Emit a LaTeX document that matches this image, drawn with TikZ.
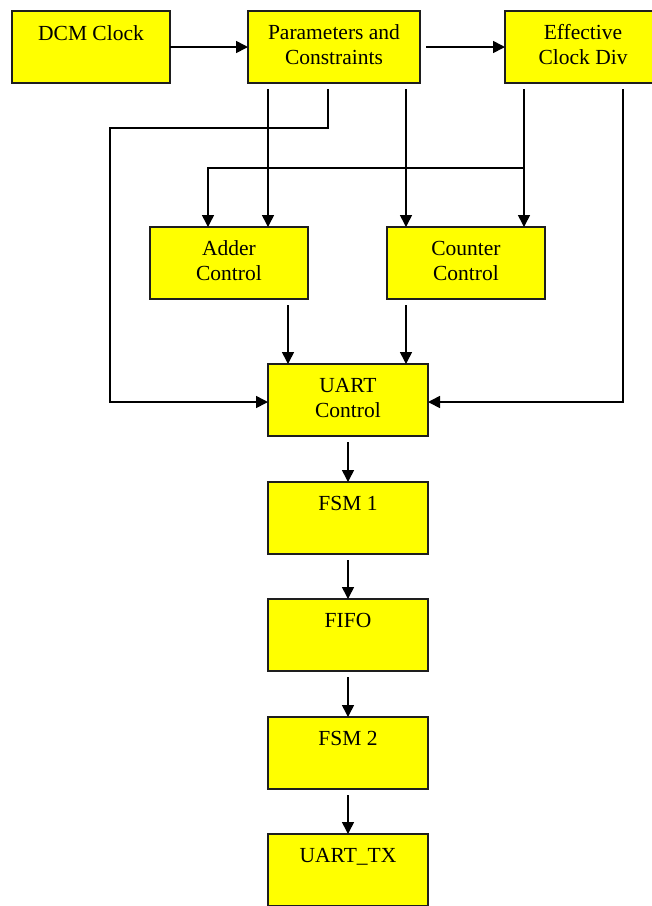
\documentclass[tikz,border=0pt]{standalone}
\usepackage{fontspec}
\setmainfont{Liberation Serif}
\usetikzlibrary{arrows.meta,calc}
\definecolor{boxyellow}{RGB}{255,255,0}
\definecolor{edgegray}{RGB}{30,30,30}
\tikzset{
  blk/.style={draw=edgegray, fill=boxyellow, line width=1.4pt, rectangle, inner sep=0pt, outer sep=0pt, anchor=north west},
  lbl/.style={anchor=base, inner sep=0pt, font=\fontsize{21.5}{26}\selectfont},
  arr/.style={draw=black, line width=1.6pt, -{Triangle[length=12pt,width=12pt]}},
  wire/.style={draw=black, line width=1.6pt}
}
\begin{document}
\begin{tikzpicture}[x=1pt,y=-1pt]
\useasboundingbox (0,0) rectangle (652,906);
\clip (0,0) rectangle (652,906);
\fill[white] (0,0) rectangle (652,906);
% boxes
\node[blk, minimum width=158pt, minimum height=72pt] (dcm) at (12,11) {};
\node[blk, minimum width=172pt, minimum height=72pt] (par) at (248,11) {};
\node[blk, minimum width=156pt, minimum height=72pt] (eff) at (505,11) {};
\node[blk, minimum width=158pt, minimum height=72pt] (add) at (150,227) {};
\node[blk, minimum width=158pt, minimum height=72pt] (cnt) at (387,227) {};
\node[blk, minimum width=160pt, minimum height=72pt] (uart) at (268,364) {};
\node[blk, minimum width=160pt, minimum height=72pt] (fsma) at (268,482) {};
\node[blk, minimum width=160pt, minimum height=72pt] (fifo) at (268,599) {};
\node[blk, minimum width=160pt, minimum height=72pt] (fsmb) at (268,717) {};
\node[blk, minimum width=160pt, minimum height=72pt] (tx) at (268,834) {};
% labels
\node[lbl] (tdcm) at ($(dcm.north)+(0,29)$) {DCM Clock};
\node[lbl] (tpar1) at ($(par.north)+(0,28)$) {Parameters and};
\node[lbl] (tpar2) at ($(par.north)+(0,53)$) {Constraints};
\node[lbl] (teff1) at ($(eff.north)+(0,28)$) {Effective};
\node[lbl] (teff2) at ($(eff.north)+(0,53)$) {Clock Div};
\node[lbl] (tadd1) at ($(add.north)+(0,28)$) {Adder};
\node[lbl] (tadd2) at ($(add.north)+(0,53)$) {Control};
\node[lbl] (tcnt1) at ($(cnt.north)+(0,28)$) {Counter};
\node[lbl] (tcnt2) at ($(cnt.north)+(0,53)$) {Control};
\node[lbl] (tuart1) at ($(uart.north)+(0,28)$) {UART};
\node[lbl] (tuart2) at ($(uart.north)+(0,53)$) {Control};
\node[lbl] (tfsma) at ($(fsma.north)+(0,28)$) {FSM 1};
\node[lbl] (tfifo) at ($(fifo.north)+(0,28)$) {FIFO};
\node[lbl] (tfsmb) at ($(fsmb.north)+(0,28)$) {FSM 2};
\node[lbl] (ttx) at ($(tx.north)+(0,28)$) {UART\_TX};
% ports
\coordinate (pa) at ($(par.south west)+(20,6)$);
\coordinate (pb) at ($(par.south west)+(80,6)$);
\coordinate (pc) at ($(par.south west)+(158,6)$);
\coordinate (ea) at ($(eff.south west)+(19,6)$);
\coordinate (eb) at ($(eff.south west)+(118,6)$);
\coordinate (bendL) at (110,128);
\coordinate (branch) at ($(eff.south west)+(19,85)$);
\coordinate (adA) at ($(add.north west)+(58,0)$);
\coordinate (adB) at ($(add.north west)+(118,0)$);
\coordinate (ctA) at ($(cnt.north west)+(19,0)$);
\coordinate (ctB) at ($(cnt.north west)+(137,0)$);
\coordinate (adOut) at ($(add.south west)+(138,6)$);
\coordinate (ctOut) at ($(cnt.south west)+(19,6)$);
\coordinate (uL) at ($(uart.west)+(0,2)$);
\coordinate (uR) at ($(uart.east)+(0,2)$);
% connectors
\draw[arr] (dcm.east) -- (par.west);
\draw[arr] ($(par.east)+(6,0)$) -- (eff.west);
\draw[arr] (pa) -- (adB);
\draw[arr] (pb) |- (bendL) |- (uL);
\draw[arr] (pc) -- (ctA);
\draw[arr] (ea) -- (ctB);
\draw[arr] (branch) -| (adA);
\draw[arr] (eb) |- (uR);
\draw[arr] (adOut) -- (adOut |- uart.north);
\draw[arr] (ctOut) -- (ctOut |- uart.north);
\draw[arr] ($(uart.south)+(0,6)$) -- (fsma.north);
\draw[arr] ($(fsma.south)+(0,6)$) -- (fifo.north);
\draw[arr] ($(fifo.south)+(0,6)$) -- (fsmb.north);
\draw[arr] ($(fsmb.south)+(0,6)$) -- (tx.north);
\end{tikzpicture}
\end{document}
